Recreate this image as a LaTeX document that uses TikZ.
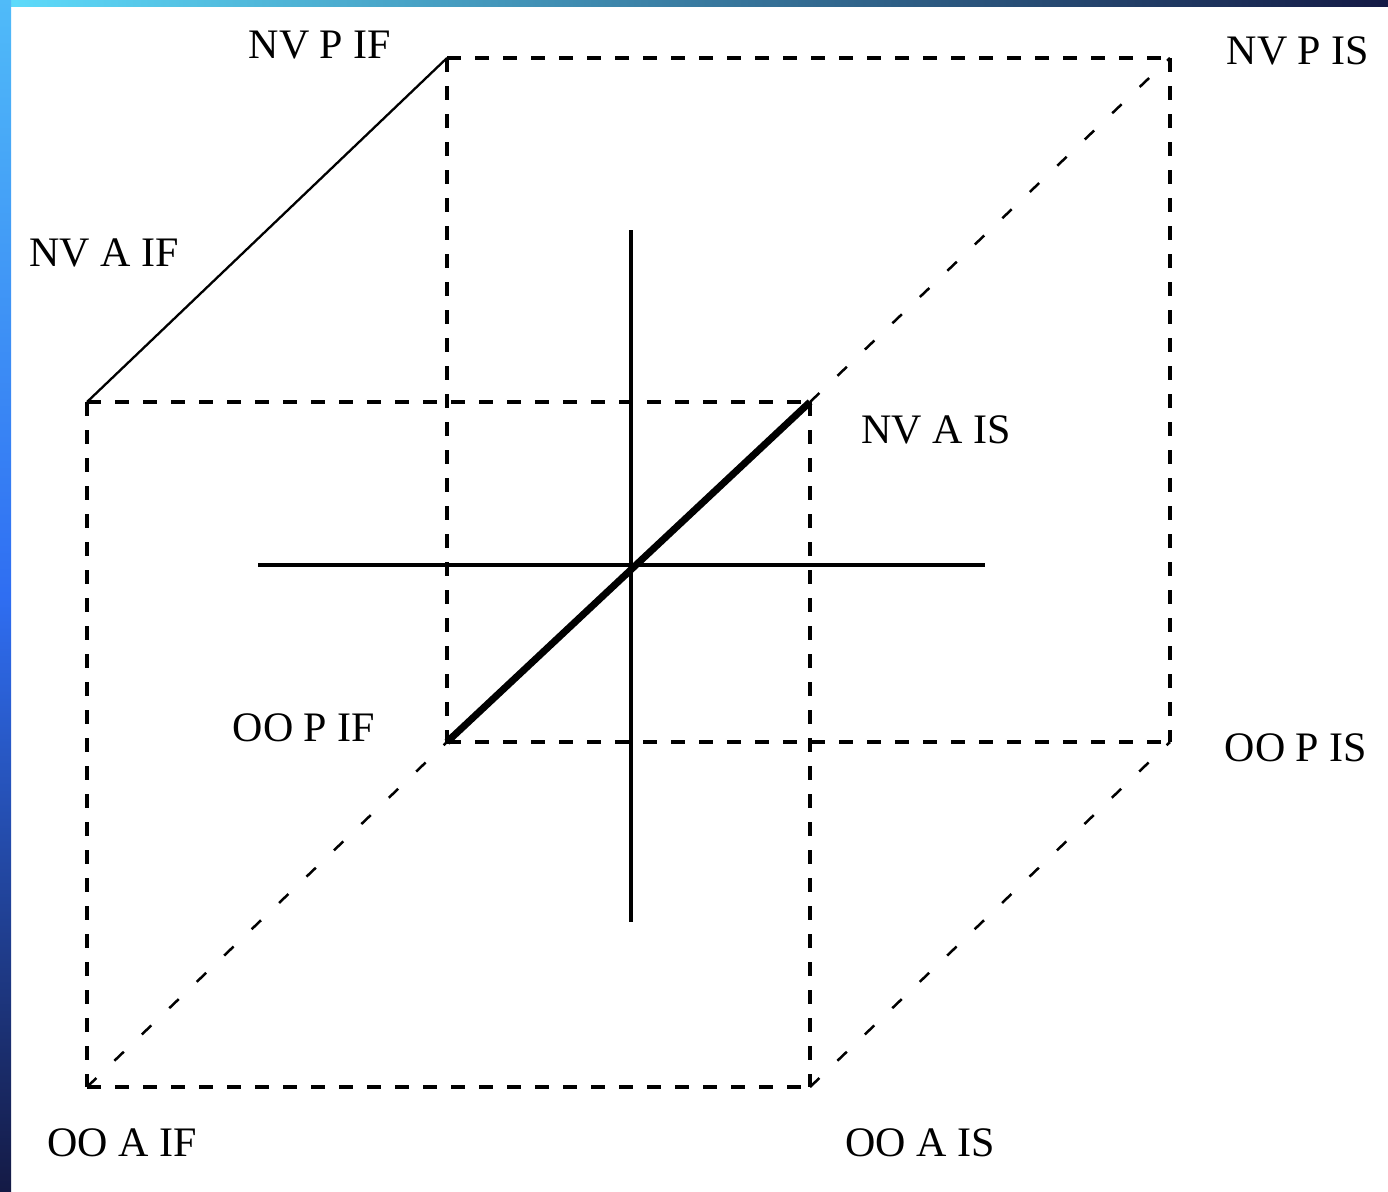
\documentclass[tikz,border=0pt]{standalone}
\usepackage{fontspec}
\setmainfont{Liberation Serif}
\definecolor{stripA}{HTML}{5EDCFC}
\definecolor{stripB}{HTML}{2F6EF2}
\definecolor{stripC}{HTML}{141A45}
\begin{document}
\begin{tikzpicture}[x=1pt,y=-1pt,
  lbl/.style={font=\fontsize{42}{42}\selectfont, inner sep=0pt, anchor=center},
  facedash/.style={line width=3.3pt, dash pattern=on 14pt off 14pt},
  diagdash/.style={line width=2.5pt, dash pattern=on 13pt off 25pt},
  thinsolid/.style={line width=2.3pt},
  axisline/.style={line width=4.5pt},
  thickline/.style={line width=7pt}]
\useasboundingbox (0,0) rectangle (1388,1191);
\fill[white] (0,0) rectangle (1388,1191);
% background strips
\shade[left color=stripA, right color=stripC] (0,0) rectangle (1388,6);
\shade[top color=stripA!70!stripB, bottom color=stripC, middle color=stripB] (0,0) rectangle (11,1191);
% cube corners
\coordinate (npif) at (447,58);
\coordinate (npis) at (1170,58);
\coordinate (opif) at (447,742);
\coordinate (opis) at (1170,742);
\coordinate (naif) at (87,402);
\coordinate (nais) at (810,402);
\coordinate (oaif) at (87,1087);
\coordinate (oais) at (810,1087);
% axis ends
\coordinate (vt) at (631,230);
\coordinate (vb) at (631,922);
\coordinate (hl) at (258,565);
\coordinate (hr) at (985,565);
% back face
\draw[facedash] (npif) -- (npis);
\draw[facedash] (opif) -- (opis);
\draw[facedash] (npif) -- (opif);
\draw[facedash] (npis) -- (opis);
% front face
\draw[facedash] (naif) -- (nais);
\draw[facedash] (oaif) -- (oais);
\draw[facedash] (naif) -- (oaif);
\draw[facedash] (nais) -- (oais);
% depth edges
\draw[thinsolid] (naif) -- (npif);
\draw[diagdash] (nais) -- (npis);
\draw[diagdash] (oaif) -- (opif);
\draw[diagdash] (oais) -- (opis);
% axes
\draw[axisline] (vt) -- (vb);
\draw[axisline] (hl) -- (hr);
\draw[thickline] (opif) -- (nais);
% labels
\node[lbl] (lnpif) at (320,45) {NV P IF};
\node[lbl] (lnpis) at (1298,51) {NV P IS};
\node[lbl] (lnaif) at (104,253) {NV A IF};
\node[lbl] (lnais) at (936,430) {NV A IS};
\node[lbl] (lopif) at (304,728) {OO P IF};
\node[lbl] (lopis) at (1296,748) {OO P IS};
\node[lbl] (loaif) at (122,1143) {OO A IF};
\node[lbl] (loais) at (920,1143) {OO A IS};
\end{tikzpicture}
\end{document}
